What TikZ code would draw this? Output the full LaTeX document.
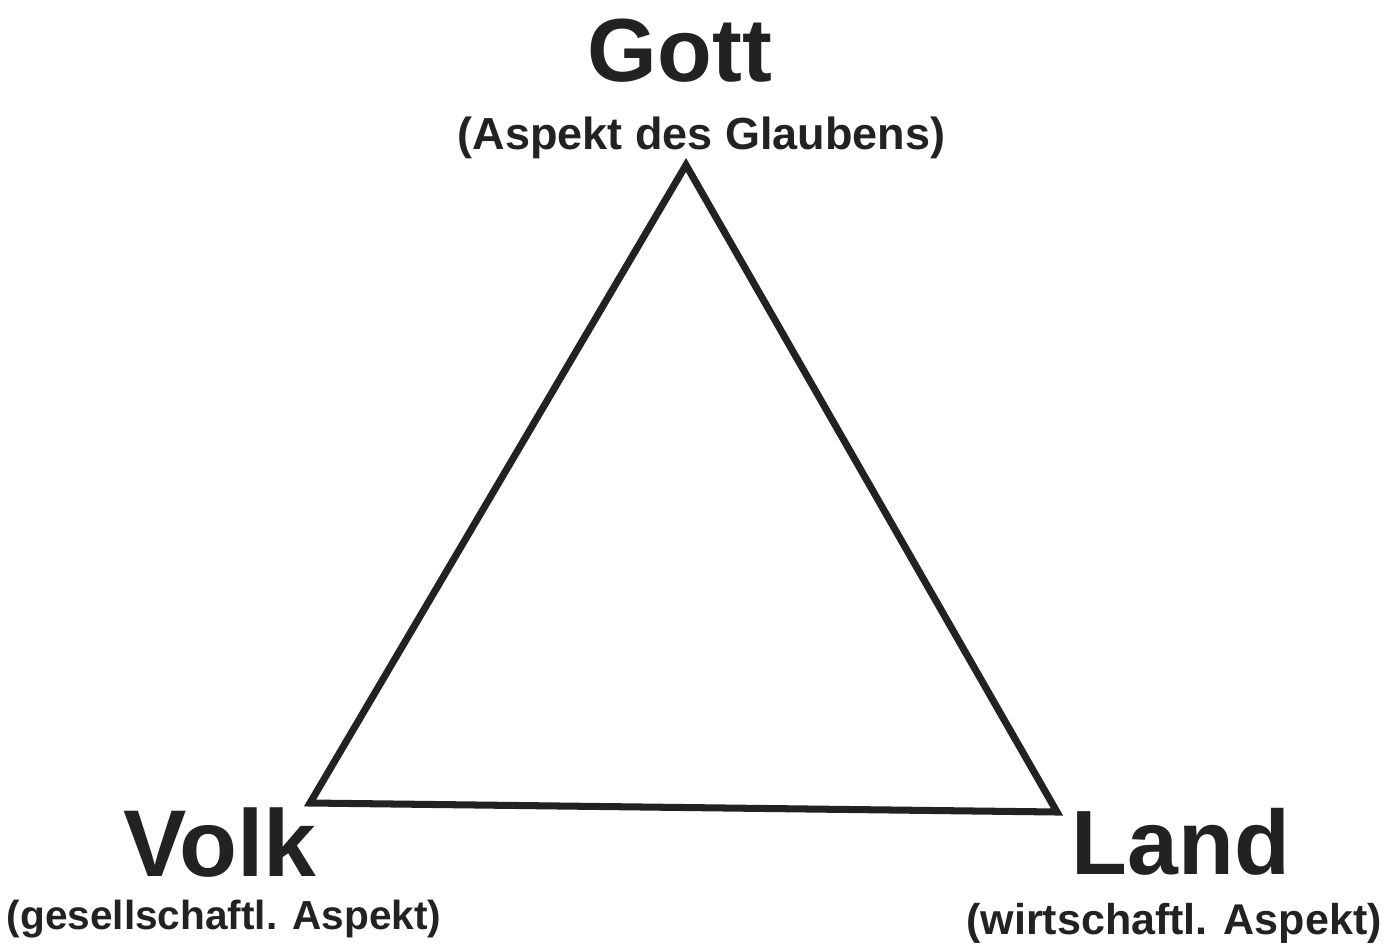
\documentclass[tikz,border=0pt]{standalone}
\usepackage{fontspec}
\setmainfont{Liberation Sans}
\usepackage{xcolor}
\usetikzlibrary{positioning}

\definecolor{ink}{HTML}{222222}

\begin{document}
\begin{tikzpicture}[
    big/.style={text=ink, font=\bfseries\fontsize{#1}{#1}\selectfont, anchor=base, inner sep=0pt},
    small/.style={text=ink, font=\bfseries\fontsize{#1}{#1}\selectfont, anchor=base, inner sep=0pt},
    edge/.style={draw=ink, line width=4pt, line join=miter}
]
\useasboundingbox (0,0) rectangle (27.98,18.98);

% Corners
\coordinate (top) at (13.72,15.68);
\coordinate (left) at (6.2,2.92);
\coordinate (right) at (21.14,2.74);

% Labels
\node[big=51] (gott) at (13.6,17.34) {Gott};
\node[small=25.6] (glaube) at (14.03,15.98) {(Aspekt des Glaubens)};
\node[big=54] (volk) at (4.4,1.46) {Volk};
\node[small=23.1] (volkasp) at (4.48,0.4) {(gesellschaftl. Aspekt)};
\node[big=52] (land) at (23.62,1.5) {Land};
\node[small=24.5] (landasp) at (23.48,0.3) {(wirtschaftl. Aspekt)};

% Triangle
\draw[edge] (top) -- (right) -- (left) -- cycle;

\end{tikzpicture}
\end{document}
